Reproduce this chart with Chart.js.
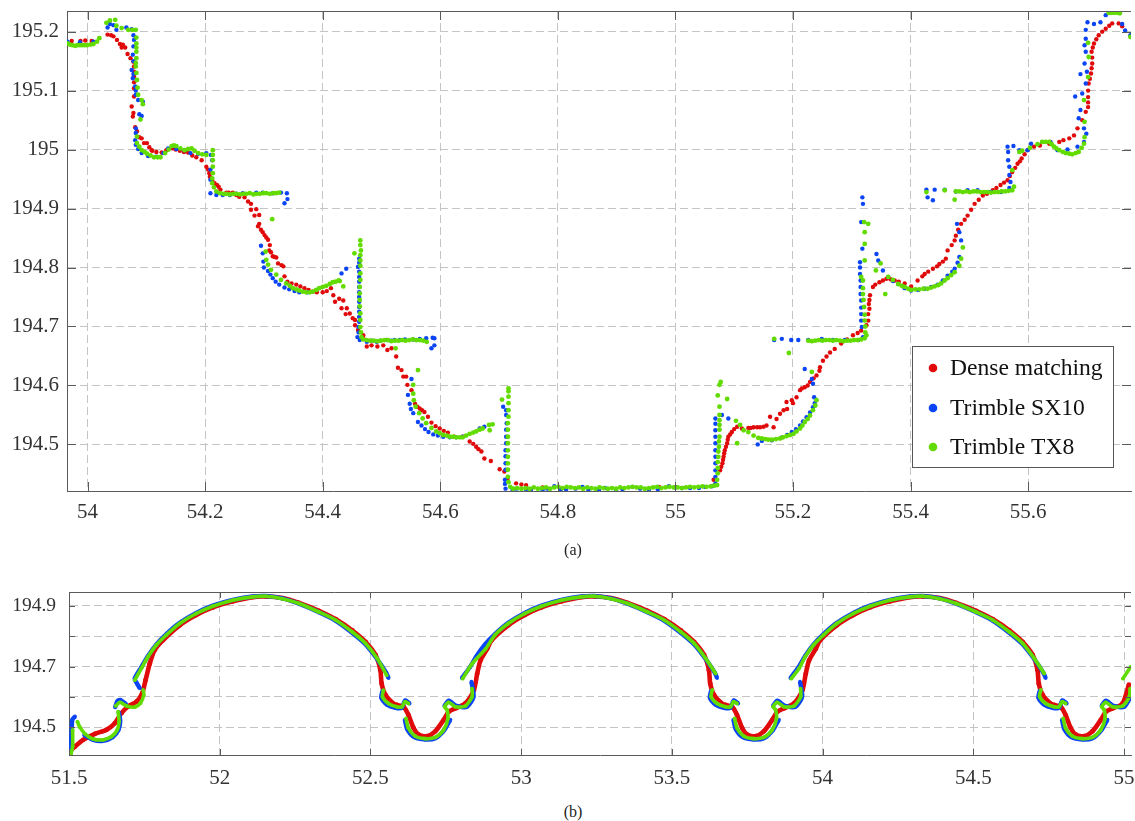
<!DOCTYPE html>
<html><head><meta charset="utf-8">
<script src="https://cdn.jsdelivr.net/npm/chart.js@4"></script>
<style>
html,body{margin:0;padding:0;background:#fff;width:1135px;height:821px;overflow:hidden}
canvas{position:absolute;left:0;display:block}
#ca{top:0}#cb{top:555px}
.cap{position:absolute;left:523px;width:100px;text-align:center;font:16px "Liberation Serif";color:#222}
</style></head><body>
<canvas id="ca" width="1135" height="540"></canvas>
<canvas id="cb" width="1135" height="245"></canvas>
<div class="cap" style="top:541px">(a)</div>
<div class="cap" style="top:803px">(b)</div>
<script>
const seriesNames=["Dense matching","Trimble SX10","Trimble TX8"];
const xTicksA=[54,54.2,54.4,54.6,54.8,55,55.2,55.4,55.6];
const yTicksA=[194.5,194.6,194.7,194.8,194.9,195,195.1,195.2];
const xTicksB=[51.5,52,52.5,53,53.5,54,54.5,55];
const yTicksB=[194.5,194.6,194.7,194.8,194.9];
const yLabelsB=[194.5,194.7,194.9];

const denseA=[[53.973,195.184],[53.988,195.184],[53.996,195.185],[54.007,195.184],[54.034,195.195],[54.040,195.194],[54.044,195.192],[54.055,195.179],[54.058,195.173],[54.064,195.173],[54.068,195.162],[54.073,195.155],[54.078,195.149],[54.079,195.141],[54.079,195.132],[54.079,195.124],[54.079,195.114],[54.079,195.104],[54.079,195.090],[54.075,195.073],[54.078,195.062],[54.077,195.056],[54.081,195.038],[54.084,195.031],[54.088,195.021],[54.092,195.019],[54.096,195.011],[54.101,195.011],[54.105,195.004],[54.109,194.999],[54.117,194.996],[54.126,194.995],[54.134,194.999],[54.145,195.002],[54.157,194.998],[54.171,194.995],[54.185,194.987],[54.194,194.982],[54.202,194.971],[54.205,194.966],[54.208,194.954],[54.216,194.943],[54.223,194.937],[54.226,194.932],[54.236,194.927],[54.247,194.927],[54.258,194.920],[54.267,194.919],[54.273,194.912],[54.278,194.908],[54.278,194.898],[54.287,194.899],[54.284,194.888],[54.292,194.889],[54.292,194.874],[54.295,194.864],[54.301,194.855],[54.307,194.847],[54.310,194.838],[54.309,194.829],[54.315,194.819],[54.321,194.817],[54.324,194.807],[54.333,194.802],[54.335,194.785],[54.340,194.776],[54.355,194.771],[54.369,194.765],[54.383,194.759],[54.400,194.758],[54.414,194.765],[54.418,194.753],[54.421,194.742],[54.428,194.747],[54.435,194.744],[54.432,194.731],[54.441,194.731],[54.439,194.721],[54.446,194.722],[54.451,194.714],[54.455,194.711],[54.455,194.702],[54.460,194.694],[54.469,194.685],[54.469,194.680],[54.475,194.666],[54.483,194.668],[54.493,194.666],[54.503,194.668],[54.510,194.660],[54.517,194.663],[54.525,194.649],[54.528,194.630],[54.534,194.626],[54.537,194.615],[54.542,194.615],[54.544,194.601],[54.551,194.592],[54.557,194.569],[54.561,194.564],[54.565,194.561],[54.569,194.558],[54.573,194.555],[54.579,194.547],[54.585,194.537],[54.592,194.531],[54.599,194.527],[54.606,194.523],[54.613,194.520],[54.624,194.513],[54.638,194.513],[54.650,194.505],[54.656,194.501],[54.661,194.496],[54.665,194.492],[54.670,194.488],[54.675,194.476],[54.686,194.472],[54.701,194.458],[54.709,194.454],[54.715,194.443],[54.729,194.434],[54.738,194.432],[54.746,194.431],[54.774,194.427],[54.814,194.425],[54.972,194.428],[55.0,194.428],[55.065,194.440],[55.076,194.456],[55.080,194.468],[55.082,194.479],[55.084,194.490],[55.088,194.502],[55.090,194.513],[55.096,194.521],[55.105,194.530],[55.113,194.527],[55.124,194.528],[55.133,194.529],[55.144,194.529],[55.155,194.532],[55.161,194.547],[55.167,194.529],[55.172,194.543],[55.178,194.552],[55.184,194.558],[55.189,194.572],[55.198,194.575],[55.206,194.580],[55.212,194.592],[55.220,194.597],[55.229,194.606],[55.240,194.617],[55.246,194.631],[55.251,194.642],[55.257,194.649],[55.263,194.656],[55.271,194.662],[55.282,194.671],[55.292,194.678],[55.302,194.685],[55.316,194.693],[55.325,194.702],[55.328,194.721],[55.329,194.738],[55.331,194.753],[55.336,194.767],[55.347,194.775],[55.359,194.781],[55.373,194.778],[55.390,194.773],[55.401,194.768],[55.412,194.778],[55.424,194.789],[55.438,194.798],[55.449,194.806],[55.460,194.815],[55.463,194.829],[55.475,194.846],[55.477,194.854],[55.486,194.874],[55.497,194.888],[55.509,194.908],[55.523,194.922],[55.537,194.928],[55.540,194.931],[55.553,194.940],[55.565,194.948],[55.573,194.962],[55.582,194.976],[55.589,194.985],[55.599,194.999],[55.610,195.005],[55.636,195.010],[55.653,195.013],[55.670,195.019],[55.678,195.024],[55.684,195.036],[55.692,195.050],[55.698,195.064],[55.702,195.072],[55.702,195.089],[55.703,195.112],[55.707,195.129],[55.709,195.146],[55.708,195.166],[55.712,195.180],[55.720,195.194],[55.732,195.205],[55.743,195.214],[55.754,195.214],[55.760,195.209]];
const denseAFill=[[54.050,195.186],[54.060,195.178],[54.110,194.998],[54.150,195.000],[54.164,194.996],[54.178,194.990],[54.207,194.960],[54.212,194.948],[54.220,194.940],[54.240,194.927],[54.253,194.923],[54.290,194.870],[54.298,194.860],[54.304,194.851],[54.312,194.826],[54.318,194.818],[54.330,194.804],[54.347,194.773],[54.362,194.768],[54.376,194.762],[54.390,194.758],[54.407,194.760],[55.078,194.462],[55.081,194.474],[55.083,194.485],[55.086,194.496],[55.089,194.508],[55.093,194.517],[55.100,194.526],[55.128,194.528],[55.139,194.529],[55.150,194.530],[55.190,194.560],[55.200,194.570],[55.215,194.595],[55.225,194.600],[55.235,194.612],[55.245,194.625],[55.310,194.689],[55.328,194.710],[55.330,194.730],[55.330,194.745],[55.340,194.771],[55.353,194.778],[55.366,194.780],[55.380,194.776],[55.420,194.785],[55.430,194.793],[55.445,194.802],[55.455,194.810],[55.470,194.838],[55.481,194.864],[55.492,194.881],[55.503,194.898],[55.516,194.915],[55.530,194.925],[55.546,194.935],[55.559,194.944],[55.569,194.955],[55.578,194.969],[55.586,194.980],[55.594,194.992],[55.620,195.007],[55.660,195.016],[55.702,195.080],[55.702,195.100],[55.705,195.120],[55.708,195.138],[55.709,195.156],[55.710,195.173],[55.716,195.187],[55.726,195.200],[55.738,195.210]];

const sx10A=[[53.966,195.183],[53.987,195.182],[54.010,195.183],[54.034,195.207],[54.038,195.213],[54.044,195.211],[54.049,195.203],[54.066,195.207],[54.075,195.204],[54.078,195.194],[54.079,195.186],[54.078,195.175],[54.077,195.161],[54.075,195.135],[54.077,195.121],[54.081,195.107],[54.082,195.093],[54.086,195.084],[54.094,195.081],[54.088,195.060],[54.092,195.057],[54.082,195.036],[54.082,195.028],[54.081,195.016],[54.082,195.008],[54.086,195.001],[54.092,194.994],[54.103,194.989],[54.117,194.988],[54.129,194.994],[54.137,195.002],[54.145,195.006],[54.151,195.001],[54.165,194.999],[54.175,194.994],[54.188,194.993],[54.202,194.994],[54.210,194.991],[54.212,194.982],[54.209,194.966],[54.209,194.949],[54.209,194.926],[54.219,194.923],[54.230,194.923],[54.242,194.923],[54.253,194.925],[54.264,194.926],[54.287,194.927],[54.298,194.927],[54.315,194.926],[54.329,194.927],[54.339,194.926],[54.340,194.916],[54.335,194.909],[54.295,194.837],[54.298,194.824],[54.299,194.810],[54.307,194.794],[54.315,194.782],[54.326,194.771],[54.343,194.763],[54.360,194.758],[54.374,194.758],[54.432,194.790],[54.440,194.798],[54.462,194.815],[54.460,194.801],[54.462,194.784],[54.462,194.767],[54.462,194.750],[54.462,194.733],[54.462,194.716],[54.461,194.699],[54.459,194.682],[54.463,194.677],[54.475,194.674],[54.492,194.674],[54.509,194.677],[54.531,194.677],[54.554,194.678],[54.576,194.680],[54.587,194.681],[54.590,194.680],[54.590,194.668],[54.585,194.663],[54.551,194.611],[54.545,194.584],[54.548,194.569],[54.554,194.553],[54.562,194.538],[54.574,194.526],[54.588,194.517],[54.605,194.513],[54.627,194.512],[54.638,194.513],[54.667,194.527],[54.675,194.530],[54.707,194.564],[54.712,194.558],[54.713,194.536],[54.712,194.502],[54.711,194.468],[54.710,194.440],[54.711,194.425],[54.723,194.423],[54.746,194.424],[54.774,194.423],[54.794,194.429],[54.814,194.424],[54.842,194.428],[54.870,194.423],[54.899,194.422],[54.927,194.428],[54.955,194.424],[54.989,194.429],[55.011,194.426],[55.040,194.426],[55.062,194.429],[55.068,194.434],[55.068,194.456],[55.068,194.479],[55.068,194.502],[55.068,194.524],[55.068,194.544],[55.079,194.550],[55.090,194.544],[55.140,194.500],[55.147,194.506],[55.164,194.507],[55.181,194.512],[55.198,194.521],[55.212,194.532],[55.223,194.546],[55.234,194.563],[55.236,194.580],[55.234,194.603],[55.232,194.611],[55.220,194.628],[55.168,194.677],[55.181,194.679],[55.197,194.677],[55.209,194.677],[55.226,194.677],[55.249,194.679],[55.268,194.677],[55.288,194.677],[55.311,194.677],[55.319,194.682],[55.317,194.699],[55.316,194.721],[55.316,194.744],[55.315,194.767],[55.314,194.789],[55.314,194.809],[55.318,194.832],[55.316,194.877],[55.319,194.908],[55.318,194.919],[55.342,194.823],[55.345,194.812],[55.353,194.795],[55.362,194.784],[55.379,194.772],[55.401,194.761],[55.424,194.764],[55.446,194.771],[55.463,194.786],[55.475,194.798],[55.483,194.818],[55.486,194.846],[55.483,194.860],[55.479,194.874],[55.427,194.932],[55.441,194.932],[55.458,194.932],[55.477,194.929],[55.497,194.931],[55.514,194.931],[55.537,194.928],[55.554,194.928],[55.568,194.935],[55.570,194.945],[55.429,194.919],[55.438,194.914],[55.568,194.957],[55.568,194.971],[55.566,194.982],[55.566,194.996],[55.565,195.005],[55.575,195.006],[55.585,194.999],[55.599,194.999],[55.605,195.010],[55.624,195.013],[55.638,195.013],[55.650,194.999],[55.667,195.000],[55.684,195.005],[55.695,195.013],[55.699,195.027],[55.695,195.036],[55.686,195.053],[55.689,195.067],[55.680,195.090],[55.692,195.095],[55.698,195.112],[55.689,195.128],[55.700,195.132],[55.696,195.146],[55.698,195.166],[55.696,195.177],[55.698,195.188],[55.698,195.203],[55.701,195.216],[55.712,195.213],[55.723,195.216],[55.732,195.228],[55.743,195.233],[55.760,195.213],[55.765,195.202],[55.774,195.194]];
const sx10AFill=[[54.078,195.150],[54.078,195.128],[54.082,195.100],[54.300,194.800],[54.311,194.788],[54.320,194.776],[54.335,194.766],[54.352,194.760],[54.462,194.808],[54.462,194.793],[54.462,194.776],[54.462,194.758],[54.462,194.742],[54.462,194.725],[54.462,194.708],[54.461,194.690],[54.483,194.676],[54.498,194.676],[54.516,194.676],[54.522,194.677],[54.540,194.678],[54.565,194.679],[54.550,194.560],[54.568,194.532],[54.580,194.521],[54.596,194.515],[54.616,194.512],[54.712,194.550],[54.712,194.525],[54.712,194.513],[54.711,194.490],[54.711,194.480],[54.711,194.457],[54.710,194.433],[54.730,194.425],[54.754,194.423],[54.782,194.425],[54.805,194.424],[54.830,194.425],[54.852,194.423],[54.880,194.426],[54.910,194.424],[54.940,194.425],[54.970,194.424],[55.000,194.427],[55.025,194.426],[55.050,194.428],[55.068,194.445],[55.068,194.468],[55.068,194.490],[55.068,194.513],[55.068,194.535],[55.190,194.516],[55.205,194.526],[55.217,194.539],[55.229,194.554],[55.237,194.570],[55.316,194.710],[55.316,194.732],[55.315,194.755],[55.315,194.778],[55.314,194.800],[55.370,194.777],[55.390,194.765],[55.413,194.762],[55.435,194.767],[55.455,194.778],[55.471,194.793],[55.480,194.808]];

const tx8A=[[53.966,195.180],[53.970,195.178],[53.974,195.177],[53.979,195.176],[53.983,195.177],[53.987,195.177],[53.991,195.177],[53.995,195.177],[53.999,195.177],[54.005,195.178],[54.010,195.179],[54.016,195.183],[54.020,195.189],[54.032,195.215],[54.038,195.219],[54.047,195.220],[54.049,195.210],[54.058,195.206],[54.069,195.203],[54.076,195.203],[54.082,195.203],[54.083,195.190],[54.083,195.180],[54.083,195.166],[54.082,195.141],[54.084,195.118],[54.085,195.105],[54.086,195.093],[54.092,195.084],[54.094,195.077],[54.090,195.051],[54.084,195.022],[54.084,195.011],[54.088,195.005],[54.092,194.999],[54.097,194.996],[54.101,194.993],[54.107,194.990],[54.113,194.987],[54.119,194.987],[54.124,194.987],[54.132,194.994],[54.138,195.000],[54.143,195.006],[54.147,195.007],[54.151,195.006],[54.158,195.002],[54.165,194.999],[54.171,195.001],[54.177,195.002],[54.182,194.998],[54.188,194.994],[54.195,194.992],[54.202,194.991],[54.213,194.999],[54.213,194.991],[54.213,194.982],[54.213,194.971],[54.213,194.960],[54.212,194.951],[54.212,194.943],[54.215,194.936],[54.219,194.929],[54.225,194.926],[54.231,194.925],[54.236,194.925],[54.242,194.924],[54.248,194.925],[54.253,194.925],[54.259,194.924],[54.265,194.925],[54.270,194.925],[54.276,194.926],[54.282,194.924],[54.287,194.925],[54.293,194.925],[54.299,194.926],[54.304,194.926],[54.310,194.925],[54.316,194.926],[54.321,194.926],[54.326,194.927],[54.314,194.882],[54.303,194.827],[54.304,194.813],[54.307,194.805],[54.312,194.796],[54.321,194.788],[54.329,194.779],[54.338,194.773],[54.344,194.769],[54.349,194.765],[54.355,194.763],[54.360,194.761],[54.366,194.759],[54.372,194.758],[54.378,194.758],[54.383,194.759],[54.389,194.762],[54.394,194.765],[54.400,194.767],[54.406,194.769],[54.412,194.772],[54.417,194.775],[54.422,194.776],[54.427,194.778],[54.429,194.777],[54.435,194.768],[54.454,194.824],[54.464,194.846],[54.465,194.829],[54.464,194.812],[54.464,194.790],[54.463,194.767],[54.463,194.745],[54.464,194.722],[54.464,194.699],[54.466,194.682],[54.469,194.678],[54.475,194.677],[54.481,194.676],[54.487,194.676],[54.493,194.675],[54.499,194.676],[54.505,194.677],[54.511,194.677],[54.517,194.675],[54.523,194.676],[54.529,194.676],[54.535,194.677],[54.541,194.676],[54.547,194.677],[54.553,194.678],[54.559,194.677],[54.565,194.677],[54.571,194.676],[54.577,194.674],[54.524,194.663],[54.562,194.626],[54.554,194.601],[54.554,194.586],[54.555,194.575],[54.558,194.564],[54.564,194.553],[54.570,194.544],[54.576,194.536],[54.585,194.528],[54.593,194.522],[54.599,194.519],[54.605,194.516],[54.611,194.515],[54.616,194.513],[54.622,194.513],[54.627,194.512],[54.633,194.512],[54.638,194.512],[54.644,194.515],[54.650,194.518],[54.656,194.520],[54.661,194.522],[54.667,194.525],[54.672,194.527],[54.683,194.533],[54.684,194.524],[54.689,194.534],[54.705,194.576],[54.716,194.595],[54.716,194.581],[54.716,194.558],[54.715,194.536],[54.715,194.513],[54.715,194.490],[54.715,194.468],[54.715,194.445],[54.719,194.428],[54.724,194.425],[54.731,194.426],[54.738,194.425],[54.745,194.426],[54.752,194.425],[54.759,194.427],[54.766,194.425],[54.773,194.426],[54.780,194.427],[54.787,194.425],[54.794,194.427],[54.801,194.428],[54.808,194.426],[54.815,194.428],[54.822,194.427],[54.829,194.426],[54.836,194.427],[54.843,194.425],[54.850,194.427],[54.857,194.426],[54.864,194.425],[54.871,194.427],[54.878,194.426],[54.885,194.425],[54.892,194.426],[54.899,194.425],[54.906,194.427],[54.913,194.426],[54.920,194.427],[54.927,194.428],[54.934,194.427],[54.941,194.427],[54.948,194.425],[54.955,194.426],[54.962,194.427],[54.969,194.428],[54.976,194.426],[54.983,194.427],[54.990,194.428],[54.997,194.427],[55.004,194.427],[55.011,194.426],[55.018,194.427],[55.025,194.428],[55.032,194.427],[55.039,194.428],[55.046,194.429],[55.053,194.428],[55.060,194.429],[55.066,194.430],[55.071,194.431],[55.072,194.451],[55.073,194.479],[55.074,194.496],[55.075,194.513],[55.075,194.541],[55.075,194.564],[55.072,194.583],[55.075,194.601],[55.077,194.606],[55.088,194.577],[55.103,194.540],[55.110,194.533],[55.105,194.502],[55.116,194.524],[55.124,194.521],[55.133,194.515],[55.141,194.511],[55.147,194.510],[55.153,194.509],[55.158,194.508],[55.164,194.508],[55.171,194.509],[55.178,194.510],[55.183,194.512],[55.189,194.514],[55.195,194.516],[55.201,194.518],[55.206,194.522],[55.212,194.527],[55.216,194.532],[55.220,194.538],[55.225,194.543],[55.229,194.549],[55.234,194.558],[55.238,194.566],[55.240,194.575],[55.232,194.623],[55.193,194.655],[55.168,194.679],[55.226,194.676],[55.232,194.675],[55.238,194.676],[55.244,194.677],[55.250,194.676],[55.256,194.677],[55.262,194.677],[55.268,194.676],[55.274,194.677],[55.280,194.676],[55.286,194.675],[55.292,194.676],[55.298,194.676],[55.304,194.677],[55.310,194.677],[55.316,194.678],[55.322,194.680],[55.325,194.685],[55.322,194.710],[55.321,194.733],[55.319,194.755],[55.319,194.778],[55.316,194.784],[55.322,194.812],[55.322,194.840],[55.322,194.860],[55.321,194.877],[55.328,194.874],[55.341,194.795],[55.349,194.807],[55.357,194.755],[55.362,194.784],[55.370,194.779],[55.379,194.772],[55.385,194.769],[55.390,194.767],[55.396,194.764],[55.401,194.762],[55.408,194.763],[55.415,194.763],[55.422,194.764],[55.429,194.764],[55.435,194.766],[55.441,194.768],[55.447,194.770],[55.452,194.773],[55.458,194.778],[55.463,194.782],[55.469,194.787],[55.475,194.792],[55.483,194.803],[55.486,194.815],[55.489,194.834],[55.427,194.928],[55.458,194.931],[55.475,194.915],[55.477,194.929],[55.483,194.929],[55.489,194.928],[55.495,194.929],[55.501,194.928],[55.507,194.929],[55.513,194.929],[55.519,194.928],[55.525,194.928],[55.531,194.928],[55.537,194.927],[55.543,194.928],[55.549,194.928],[55.555,194.929],[55.561,194.929],[55.567,194.930],[55.573,194.931],[55.576,194.937],[55.573,194.965],[55.585,194.996],[55.590,194.998],[55.603,195.003],[55.616,195.009],[55.624,195.013],[55.630,195.013],[55.636,195.013],[55.640,195.009],[55.644,195.005],[55.648,195.002],[55.653,194.999],[55.659,194.996],[55.664,194.994],[55.670,194.993],[55.675,194.992],[55.681,194.994],[55.686,194.996],[55.691,195.003],[55.695,195.010],[55.696,195.021],[55.696,195.047],[55.695,195.084],[55.702,195.123],[55.703,195.157],[55.702,195.181],[55.737,195.232],[55.741,195.232],[55.746,195.232],[55.751,195.232],[55.756,195.231],[55.774,195.191]];
const tx8AFill=[[54.083,195.173],[54.083,195.155],[54.082,195.147],[54.083,195.130],[54.464,194.838],[54.464,194.821],[54.464,194.803],[54.464,194.779],[54.463,194.756],[54.463,194.734],[54.464,194.711],[54.465,194.690],[54.716,194.590],[54.716,194.570],[54.716,194.547],[54.715,194.525],[54.715,194.502],[54.715,194.479],[54.715,194.457],[54.716,194.436],[55.071,194.440],[55.072,194.460],[55.072,194.470],[55.073,194.488],[55.074,194.505],[55.075,194.525],[55.075,194.533],[55.075,194.550],[55.323,194.690],[55.323,194.700],[55.322,194.720],[55.320,194.745],[55.319,194.765]];

const denseB=[[51.498,194.416],[51.520,194.436],[51.547,194.458],[51.586,194.478],[51.624,194.491],[51.652,194.513],[51.674,194.546],[51.696,194.568],[51.724,194.584],[51.743,194.612],[51.754,194.655],[51.768,194.710],[51.784,194.754],[51.812,194.787],[51.867,194.836],[51.922,194.870],[51.977,194.895],[52.043,194.915],[52.109,194.929],[52.153,194.931],[52.208,194.926],[52.263,194.910],[52.329,194.884],[52.385,194.856],[52.440,194.819],[52.484,194.781],[52.517,194.738],[52.533,194.688],[52.537,194.644],[52.550,194.606],[52.577,194.577],[52.588,194.573],[52.610,194.567],[52.626,194.540],[52.643,194.497],[52.660,194.475],[52.687,194.470],[52.715,194.486],[52.743,194.524],[52.760,194.551],[52.782,194.562],[52.815,194.578],[52.843,194.622],[52.854,194.676],[52.865,194.720],[52.887,194.758],[52.902,194.787],[52.957,194.836],[53.012,194.870],[53.067,194.895],[53.133,194.915],[53.199,194.929],[53.243,194.931],[53.298,194.926],[53.353,194.910],[53.419,194.884],[53.475,194.856],[53.530,194.819],[53.574,194.781],[53.607,194.738],[53.623,194.688],[53.627,194.644],[53.640,194.606],[53.667,194.577],[53.678,194.573],[53.700,194.567],[53.716,194.540],[53.733,194.497],[53.750,194.475],[53.777,194.470],[53.805,194.486],[53.833,194.524],[53.850,194.551],[53.872,194.562],[53.905,194.578],[53.933,194.622],[53.944,194.676],[53.955,194.720],[53.977,194.758],[53.992,194.787],[54.047,194.836],[54.102,194.870],[54.157,194.895],[54.223,194.915],[54.289,194.929],[54.333,194.931],[54.388,194.926],[54.443,194.910],[54.509,194.884],[54.565,194.856],[54.620,194.819],[54.664,194.781],[54.697,194.738],[54.713,194.688],[54.717,194.644],[54.730,194.606],[54.757,194.577],[54.768,194.573],[54.790,194.567],[54.806,194.540],[54.823,194.497],[54.840,194.475],[54.867,194.470],[54.895,194.486],[54.923,194.524],[54.940,194.551],[54.962,194.562],[54.995,194.578],[55.016,194.640]];

const sx10B=[[51.504,194.41],[51.508,194.47],[51.511,194.525],[51.520,194.535],null,[51.55,194.474],[51.58,194.458],[51.613,194.455],[51.645,194.467],[51.664,194.49],[51.670,194.52],[51.665,194.55],null,[51.653,194.565],[51.660,194.585],[51.670,194.59],[51.69,194.575],null,[51.735,194.628],[51.725,194.645],[51.718,194.66],[51.74,194.698],[51.762,194.735],[51.79,194.773],[51.823,194.807],[51.867,194.844],[51.922,194.877],[51.977,194.901],[52.043,194.92],[52.109,194.931],[52.153,194.933],[52.208,194.925],[52.263,194.907],[52.329,194.879],[52.385,194.851],[52.44,194.811],[52.484,194.773],[52.522,194.725],[52.552,194.68],[52.56,194.662],null,[52.54,194.62],[52.536,194.597],[52.555,194.574],[52.583,194.564],[52.604,194.564],[52.615,194.588],[52.63,194.578],null,[52.614,194.525],[52.622,194.493],[52.645,194.467],[52.682,194.459],[52.715,194.463],[52.745,194.49],[52.765,194.525],null,[52.745,194.57],[52.76,194.587],[52.785,194.57],[52.82,194.567],[52.842,194.6],[52.835,194.65],null,[52.803,194.662],[52.83,194.698],[52.852,194.735],[52.88,194.773],[52.913,194.807],[52.957,194.844],[53.012,194.877],[53.067,194.901],[53.133,194.92],[53.199,194.931],[53.243,194.933],[53.298,194.925],[53.353,194.907],[53.419,194.879],[53.475,194.851],[53.53,194.811],[53.574,194.773],[53.612,194.725],[53.642,194.68],[53.65,194.662],null,[53.63,194.62],[53.626,194.597],[53.645,194.574],[53.673,194.564],[53.694,194.564],[53.705,194.588],[53.72,194.578],null,[53.704,194.525],[53.712,194.493],[53.735,194.467],[53.772,194.459],[53.805,194.463],[53.835,194.49],[53.855,194.525],null,[53.835,194.57],[53.85,194.587],[53.875,194.57],[53.91,194.567],[53.932,194.6],[53.925,194.65],null,[53.893,194.662],[53.92,194.698],[53.942,194.735],[53.97,194.773],[54.003,194.807],[54.047,194.844],[54.102,194.877],[54.157,194.901],[54.223,194.92],[54.289,194.931],[54.333,194.933],[54.388,194.925],[54.443,194.907],[54.509,194.879],[54.565,194.851],[54.62,194.811],[54.664,194.773],[54.702,194.725],[54.732,194.68],[54.74,194.662],null,[54.72,194.62],[54.716,194.597],[54.735,194.574],[54.763,194.564],[54.784,194.564],[54.795,194.588],[54.81,194.578],null,[54.794,194.525],[54.802,194.493],[54.825,194.467],[54.862,194.459],[54.895,194.463],[54.925,194.49],[54.945,194.525],null,[54.925,194.57],[54.94,194.587],[54.965,194.57],[55.0,194.567],[55.022,194.6]];

const tx8B=[[51.506,194.409],[51.512,194.436],[51.512,194.491],null,[51.528,194.518],[51.536,194.500],[51.553,194.478],[51.580,194.461],[51.613,194.458],[51.641,194.469],[51.660,194.491],[51.666,194.518],[51.663,194.551],null,[51.655,194.570],[51.669,194.582],[51.691,194.570],[51.718,194.566],[51.737,194.579],[51.748,194.606],[51.746,194.623],null,[51.718,194.655],[51.740,194.694],[51.762,194.732],[51.790,194.771],[51.823,194.804],[51.867,194.842],[51.922,194.875],[51.977,194.899],[52.043,194.919],[52.109,194.930],[52.153,194.932],[52.208,194.924],[52.263,194.908],[52.329,194.880],[52.385,194.853],[52.440,194.814],[52.484,194.776],[52.522,194.727],[52.554,194.671],null,[52.543,194.622],[52.540,194.600],[52.560,194.578],[52.588,194.567],[52.604,194.567],[52.615,194.584],[52.626,194.578],null,[52.618,194.529],[52.626,194.497],[52.649,194.470],[52.682,194.462],[52.715,194.466],[52.743,194.491],[52.757,194.529],[52.754,194.557],[52.746,194.567],[52.759,194.582],[52.782,194.567],[52.815,194.570],[52.837,194.600],[52.837,194.627],null,[52.806,194.660],[52.837,194.709],[52.882,194.758],[52.913,194.804],[52.957,194.842],[53.012,194.875],[53.067,194.899],[53.133,194.919],[53.199,194.930],[53.243,194.932],[53.298,194.924],[53.353,194.908],[53.419,194.880],[53.475,194.853],[53.530,194.814],[53.574,194.776],[53.612,194.727],[53.645,194.677],null,[53.634,194.623],[53.630,194.601],[53.650,194.578],[53.678,194.567],[53.694,194.567],[53.705,194.584],[53.716,194.578],null,[53.708,194.529],[53.716,194.497],[53.739,194.470],[53.772,194.462],[53.805,194.466],[53.833,194.491],[53.847,194.529],[53.844,194.557],[53.836,194.567],[53.849,194.582],[53.872,194.567],[53.905,194.570],[53.927,194.600],[53.927,194.627],null,[53.896,194.660],[53.922,194.694],[53.942,194.732],[53.970,194.771],[54.003,194.804],[54.047,194.842],[54.102,194.875],[54.157,194.899],[54.223,194.919],[54.289,194.930],[54.333,194.932],[54.388,194.924],[54.443,194.908],[54.509,194.880],[54.565,194.853],[54.620,194.814],[54.664,194.776],[54.702,194.727],[54.735,194.677],null,[54.724,194.623],[54.720,194.601],[54.740,194.578],[54.768,194.567],[54.784,194.567],[54.795,194.584],[54.806,194.578],null,[54.798,194.529],[54.806,194.497],[54.829,194.470],[54.862,194.462],[54.895,194.466],[54.923,194.491],[54.937,194.529],[54.934,194.557],[54.926,194.567],[54.939,194.582],[54.962,194.567],[54.995,194.570],[55.017,194.600],[55.020,194.627],null,[54.996,194.660],[55.023,194.700]];

const colors=["#e00a0a","#0a44f5","#62dc00"];
const serif='"Liberation Serif"';
const toPts=a=>a.map(p=>p?{x:p[0],y:p[1]}:{x:NaN,y:NaN});

function fixTicks(vals){return s=>{s.ticks=vals.map(v=>({value:v}));};}

const frame=(tickLen)=>({id:'frame',afterDatasetsDraw(c){
  const {ctx,chartArea:a,scales:{x,y}}=c;
  ctx.save();ctx.strokeStyle='#5a5a5a';ctx.lineWidth=1;ctx.beginPath();
  ctx.moveTo(a.left,a.top+.5);ctx.lineTo(a.right,a.top+.5);
  x.ticks.forEach(t=>{const p=Math.round(x.getPixelForValue(t.value))+.5;
    ctx.moveTo(p,a.top);ctx.lineTo(p,a.top+tickLen);ctx.moveTo(p,a.bottom);ctx.lineTo(p,a.bottom-tickLen);});
  y.ticks.forEach(t=>{const p=Math.round(y.getPixelForValue(t.value))+.5;
    ctx.moveTo(a.left,p);ctx.lineTo(a.left+tickLen,p);ctx.moveTo(a.right,p);ctx.lineTo(a.right-tickLen,p);});
  ctx.stroke();ctx.restore();}});

const legendBox={id:'legendBox',afterDraw(c){
  const {ctx}=c;ctx.save();
  ctx.fillStyle='#fff';ctx.strokeStyle='#555';ctx.lineWidth=1;
  ctx.fillRect(912.5,346.5,201,121);ctx.strokeRect(912.5,346.5,201,121);
  const rows=[368,408,447];
  c.data.datasets.forEach((d,i)=>{
    ctx.fillStyle=d.backgroundColor;ctx.beginPath();ctx.arc(933,rows[i],4.3,0,7);ctx.fill();
    ctx.fillStyle='#111';ctx.font='23.6px '+serif;ctx.textBaseline='middle';ctx.textAlign='left';
    ctx.fillText(d.label,950,rows[i]+1);
  });ctx.restore();}};

function opts(xmin,xmax,ymin,ymax,xt,yt,pad,axisH,axisW,fs,yfs,yLab,xpad,ypad){
  const gridCfg={color:'#c4c4c4',lineWidth:1,drawTicks:false};
  const border={color:'#5a5a5a',dash:[8,4],dashOffset:0,width:1};
  return {responsive:false,animation:false,events:[],devicePixelRatio:1,
    layout:{padding:{top:pad,left:0,right:0,bottom:0}},
    plugins:{legend:{display:false},tooltip:{enabled:false}},
    scales:{
      x:{type:'linear',min:xmin,max:xmax,afterBuildTicks:fixTicks(xt),
        afterFit:s=>{s.height=axisH;s.paddingLeft=0;s.paddingRight=0;},
        grid:gridCfg,border,
        ticks:{autoSkip:false,maxRotation:0,minRotation:0,color:'#333',padding:xpad,font:{family:serif,size:fs},callback:v=>String(v)}},
      y:{type:'linear',min:ymin,max:ymax,afterBuildTicks:fixTicks(yt),
        afterFit:s=>{s.width=axisW;s.paddingTop=0;s.paddingBottom=0;},
        grid:gridCfg,border,
        ticks:{autoSkip:false,color:'#333',padding:ypad,font:{family:serif,size:yfs},callback:v=>(!yLab||yLab.includes(v))?String(v):''}}
    }};
}

new Chart(document.getElementById('ca'),{type:'scatter',
  data:{datasets:[denseA.concat(denseAFill),sx10A.concat(sx10AFill),tx8A.concat(tx8AFill)].map((a,i)=>({label:seriesNames[i],data:toPts(a),order:2-i,
    backgroundColor:colors[i],borderColor:colors[i],pointRadius:i==2?2.4:2.2,pointBorderWidth:0,showLine:false}))},
  options:opts(53.965,55.775,194.421,195.235,xTicksA,yTicksA,11,49,67,21,21,null,9,8),
  plugins:[frame(9),legendBox]});

new Chart(document.getElementById('cb'),{type:'scatter',
  data:{datasets:[denseB,sx10B,tx8B].map((a,i)=>({label:seriesNames[i],data:toPts(a),order:2-i,
    backgroundColor:colors[i],borderColor:colors[i],pointRadius:i==0?2.4:1.9,pointBorderWidth:0,
    showLine:true,spanGaps:false,tension:0.25,borderWidth:[4.6,4.4,3.6][i]}))},
  options:opts(51.5,55.023,194.408,194.946,xTicksB,yTicksB,37,45,69,21,19.5,yLabelsB,11,13),
  plugins:[frame(6)]});
</script>
</body></html>
